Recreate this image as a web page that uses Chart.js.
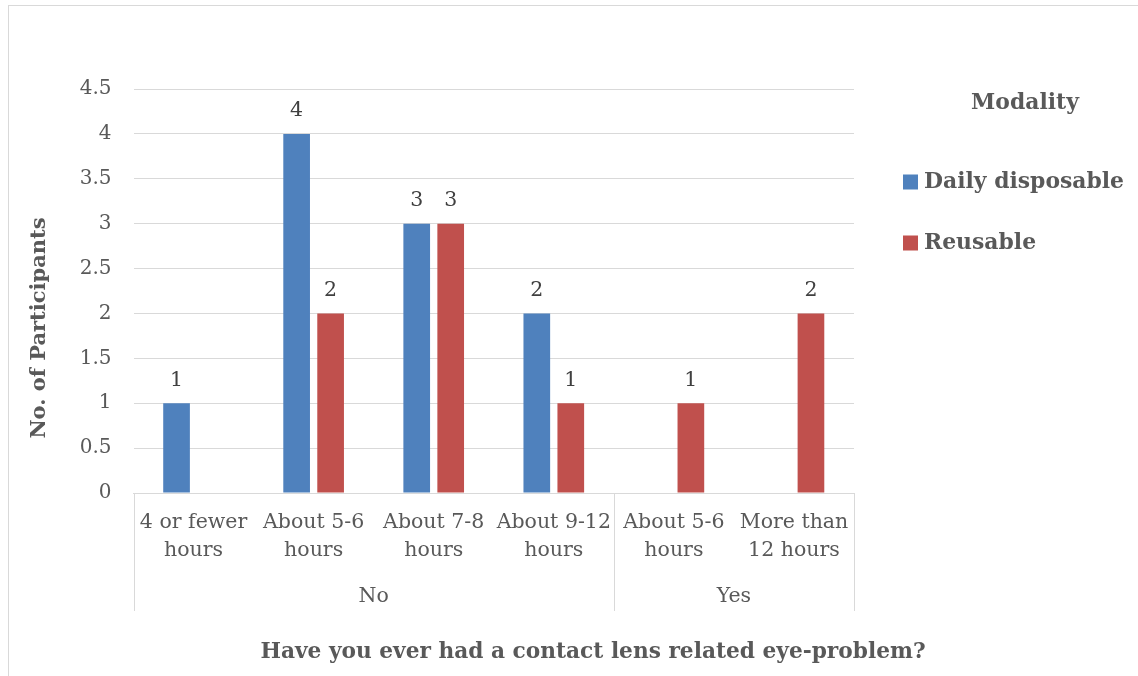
<!DOCTYPE html>
<html>
<head>
<meta charset="utf-8">
<script src="https://cdn.jsdelivr.net/npm/chart.js@4.4.0/dist/chart.umd.min.js"></script>
<style>
  html, body { margin: 0; padding: 0; background: #fff; overflow: hidden; }
  #wrap { position: relative; width: 1138px; height: 676px; }
  #frame { position: absolute; left: 8px; top: 5px; width: 1200px; height: 800px;
           border: 1px solid #d9d9d9; box-sizing: border-box; }
  #c { position: absolute; left: 0; top: 0; }
</style>
</head>
<body>
<div id="wrap">
  <div id="frame"></div>
  <canvas id="c" width="1138" height="676"></canvas>
</div>
<script>
// Wearing-time categories (inner axis level), split over two lines each
const categories = [
  ["4 or fewer", "hours"],
  ["About 5-6", "hours"],
  ["About 7-8", "hours"],
  ["About 9-12", "hours"],
  ["About 5-6", "hours"],
  ["More than", "12 hours"]
];
// Outer axis level: answer to the eye-problem question and how many categories it spans
const groupNames = ["No", "Yes"];
const groupSizes = [4, 2];

// Participants per lens modality
const dailyDisposable = [1, 4, 3, 2, null, null];
const reusable        = [null, 2, 3, 1, 1, 2];

const seriesNames = ["Daily disposable", "Reusable"];
const legendTitle = "Modality";
const xTitle = "Have you ever had a contact lens related eye-problem?";
const yTitle = "No. of Participants";

const yMin = 0, yMax = 4.5, yStep = 0.5;

const SERIF = '"DejaVu Serif", "Liberation Serif", serif';
const TEXT = '#595959';
const GRID = '#d9d9d9';

// Extra drawing: value labels, two-level category axis, axis titles and legend
const overlay = {
  id: 'overlay',
  afterDatasetsDraw(chart) {
    const ctx = chart.ctx;
    ctx.save();
    ctx.font = '20.5px ' + SERIF;
    ctx.fillStyle = '#404040';
    ctx.textAlign = 'center';
    ctx.textBaseline = 'middle';
    chart.data.datasets.forEach((ds, i) => {
      chart.getDatasetMeta(i).data.forEach((bar, j) => {
        const v = ds.data[j];
        if (v === null || v === undefined) return;
        ctx.fillText(String(v), bar.x, bar.y - 23);
      });
    });
    ctx.restore();
  },
  afterDraw(chart) {
    const ctx = chart.ctx;
    const xs = chart.scales.x;
    const half = (xs.getPixelForValue(1) - xs.getPixelForValue(0)) / 2;
    const lineTop = xs.top, lineBottom = 611;

    ctx.save();
    // group separators and group names
    ctx.strokeStyle = GRID;
    ctx.lineWidth = 1;
    let start = 0;
    const edges = [xs.getPixelForValue(0) - half];
    groupSizes.forEach(n => {
      edges.push(xs.getPixelForValue(start + n - 1) + half);
      start += n;
    });
    edges.forEach(px => {
      const p = Math.round(px) + 0.5;
      ctx.beginPath();
      ctx.moveTo(p, lineTop);
      ctx.lineTo(p, lineBottom);
      ctx.stroke();
    });
    ctx.font = '20.5px ' + SERIF;
    ctx.fillStyle = TEXT;
    ctx.textAlign = 'center';
    ctx.textBaseline = 'middle';
    groupNames.forEach((g, i) => {
      ctx.fillText(g, (edges[i] + edges[i + 1]) / 2, 597);
    });

    // axis titles
    ctx.font = 'bold 21.7px ' + SERIF;
    ctx.fillText(xTitle, 593, 652);
    ctx.save();
    ctx.translate(40, 328);
    ctx.rotate(-Math.PI / 2);
    ctx.font = 'bold 21px ' + SERIF;
    ctx.fillText(yTitle, 0, 0);
    ctx.restore();

    // legend
    ctx.font = 'bold 21.9px ' + SERIF;
    ctx.fillText(legendTitle, 1025, 103);
    ctx.textAlign = 'left';
    chart.data.datasets.forEach((ds, i) => {
      const cy = 182 + i * 61;
      ctx.fillStyle = ds.backgroundColor;
      ctx.fillRect(903, cy - 7.5, 15, 15);
      ctx.fillStyle = TEXT;
      ctx.fillText(ds.label, 924, cy);
    });
    ctx.restore();
  }
};

new Chart(document.getElementById('c'), {
  type: 'bar',
  data: {
    labels: categories,
    datasets: [
      { label: seriesNames[0], data: dailyDisposable, backgroundColor: '#4f81bd' },
      { label: seriesNames[1], data: reusable, backgroundColor: '#c0504d' }
    ]
  },
  options: {
    responsive: false,
    devicePixelRatio: 1,
    animation: false,
    categoryPercentage: 0.566,
    barPercentage: 0.785,
    layout: { padding: { top: 89, right: 284, bottom: 0, left: 0 } },
    plugins: {
      legend: { display: false },
      tooltip: { enabled: false }
    },
    scales: {
      x: {
        grid: { display: false, drawTicks: false },
        border: { display: true, color: GRID, width: 1 },
        ticks: {
          color: TEXT,
          font: { family: SERIF, size: 20.5, lineHeight: 1.37 },
          padding: 16,
          maxRotation: 0,
          autoSkip: false
        },
        afterFit(scale) { scale.height = 183; }
      },
      y: {
        min: yMin,
        max: yMax,
        grid: { color: GRID, lineWidth: 1, drawTicks: false },
        border: { display: false },
        ticks: {
          stepSize: yStep,
          color: TEXT,
          font: { family: SERIF, size: 20 },
          padding: 22,
          callback: v => String(v)
        },
        afterFit(scale) { scale.width = 133.5; }
      }
    }
  },
  plugins: [overlay]
});
</script>
</body>
</html>
